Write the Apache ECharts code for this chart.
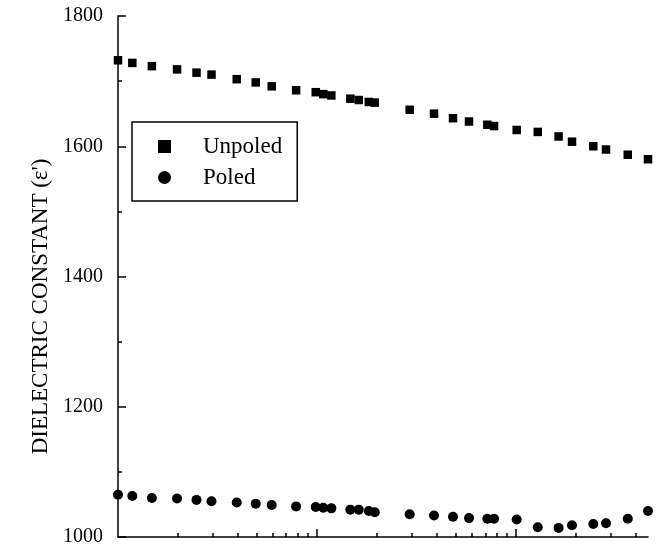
<!DOCTYPE html>
<html>
<head>
<meta charset="utf-8">
<script src="https://cdn.jsdelivr.net/npm/echarts@6/dist/echarts.min.js"></script>
<style>
  html, body { margin: 0; padding: 0; background: #fff; }
  #chart { width: 661px; height: 547px; }
</style>
</head>
<body>
<div id="chart"></div>
<script>
// frequency (log axis, labels cropped in the figure)
const freq = [100, 118, 148, 198, 248, 295, 395, 492, 592, 785, 985, 1075, 1180, 1470, 1620, 1820, 1950,
  2920, 3870, 4820, 5800, 7170, 7750, 10070, 12850, 16350, 19100, 24430, 28300, 36400, 46000]
const unpoled = [1732, 1728, 1723, 1718, 1713, 1710, 1703, 1698, 1692, 1686, 1683, 1680, 1678, 1673, 1671, 1668, 1667,
  1656, 1650, 1643, 1638, 1633, 1631, 1625, 1622, 1615, 1607, 1600, 1595, 1587, 1580]
const poled = [1065, 1063, 1060, 1059, 1057, 1055, 1053, 1051, 1049, 1047, 1046, 1045, 1044, 1042, 1042, 1040, 1038,
  1035, 1033, 1031, 1029, 1028, 1028, 1027, 1015, 1014, 1018, 1020, 1021, 1028, 1040]
const minorFreqTicks = [200, 300, 400, 500, 600, 700, 800, 900, 2000, 3000, 4000, 5000, 6000, 7000, 8000, 9000,
  20000, 30000, 40000]
const majorFreqTicks = [1000, 10000]
const yTicks = { min: 1000, max: 1800, step: 200 }

const serif = 'Liberation Serif'
const ink = '#000'

const chart = echarts.init(document.getElementById('chart'), null, { renderer: 'canvas' })

const pair = (ys) => freq.map((f, i) => [f, ys[i]])

chart.setOption({
  backgroundColor: '#fff',
  animation: false,
  grid: { left: 118, right: 13, top: 16, bottom: 5, containLabel: false },
  legend: {
    left: 132,
    top: 122,
    orient: 'vertical',
    padding: [13, 15, 12, 26],
    borderColor: ink,
    borderWidth: 1.5,
    itemWidth: 13,
    itemHeight: 13,
    itemGap: 8,
    textStyle: { fontFamily: serif, fontSize: 23, color: ink, lineHeight: 23, padding: [0, 0, 0, 27] },
    data: [
      { name: 'Unpoled', icon: 'rect', itemStyle: { color: ink, opacity: 1 } },
      { name: 'Poled', icon: 'circle', itemStyle: { color: ink, opacity: 1 } }
    ]
  },
  xAxis: [
    {
      type: 'log',
      logBase: 10,
      min: 100,
      max: 46000,
      position: 'bottom',
      axisLine: { show: true, lineStyle: { color: ink, width: 1.5 } },
      axisTick: { show: true, inside: true, length: 4, customValues: minorFreqTicks, lineStyle: { color: ink, width: 1.5 } },
      axisLabel: { show: false },
      splitLine: { show: false }
    },
    {
      type: 'log',
      logBase: 10,
      min: 100,
      max: 46000,
      position: 'bottom',
      axisLine: { show: false },
      axisTick: { show: true, inside: true, length: 8, customValues: majorFreqTicks, lineStyle: { color: ink, width: 1.5 } },
      axisLabel: { show: false },
      splitLine: { show: false }
    }
  ],
  yAxis: {
    type: 'value',
    min: yTicks.min,
    max: yTicks.max,
    interval: yTicks.step,
    name: "DIELECTRIC CONSTANT (ε')",
    nameLocation: 'middle',
    nameGap: 46,
    nameTextStyle: { fontFamily: serif, fontSize: 23, color: ink, padding: [0, 60, 0, 0] },
    axisLine: { show: true, lineStyle: { color: ink, width: 1.5 } },
    axisTick: { show: true, inside: true, length: 8, lineStyle: { color: ink, width: 1.5 } },
    minorTick: { show: true, splitNumber: 2, length: 4, lineStyle: { color: ink, width: 1.5 } },
    axisLabel: { fontFamily: serif, fontSize: 20, color: ink, margin: 15, formatter: (v) => String(v) },
    splitLine: { show: false },
    minorSplitLine: { show: false }
  },
  series: [
    {
      name: 'Unpoled',
      type: 'scatter',
      symbol: 'rect',
      symbolSize: 8.5,
      itemStyle: { color: ink, opacity: 1 },
      data: pair(unpoled)
    },
    {
      name: 'Poled',
      type: 'scatter',
      symbol: 'circle',
      symbolSize: 10,
      itemStyle: { color: ink, opacity: 1 },
      data: pair(poled)
    }
  ]
})
</script>
</body>
</html>
